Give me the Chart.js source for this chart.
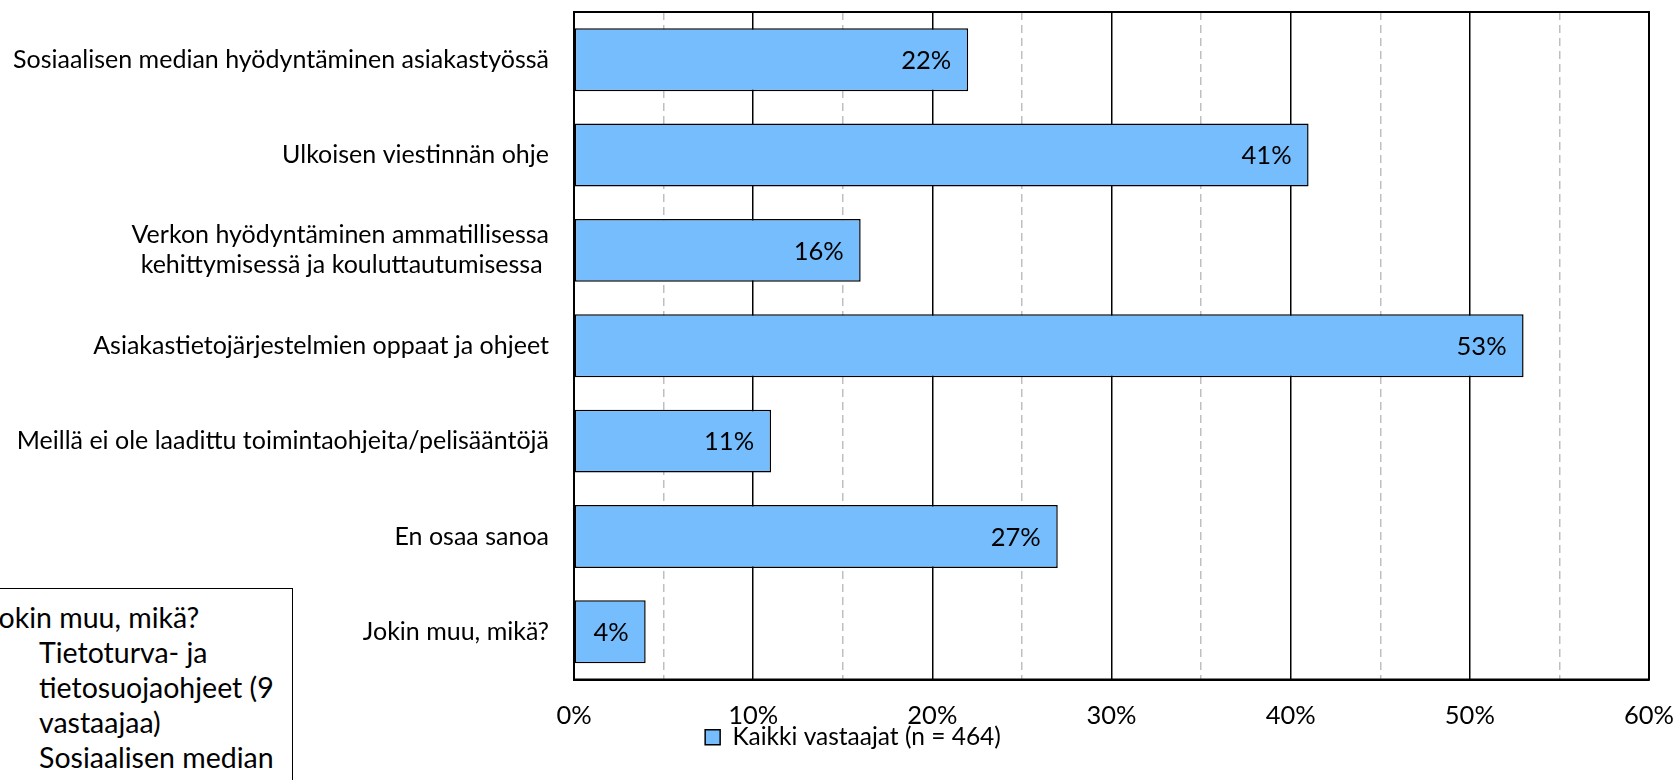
<!DOCTYPE html>
<html>
<head>
<meta charset="utf-8">
<script src="https://cdn.jsdelivr.net/npm/chart.js@4"></script>
<style>
  html, body { margin: 0; padding: 0; background: #fff; overflow: hidden; }
  #wrap { position: relative; width: 1674px; height: 780px; }
  #note {
    position: absolute;
    left: -40px;
    top: 588px;
    width: 333px;
    height: 260px;
    box-sizing: border-box;
    border: 1.5px solid #000;
    padding: 11px 0 0 26px;
    font-family: "Lato", sans-serif;
    font-size: 28.5px;
    line-height: 35px;
    color: #000;
    background: #fff;
  }
  #note .sub { padding-left: 52px; }
</style>
</head>
<body>
<div id="wrap">
  <canvas id="myChart" width="1674" height="780"></canvas>
  <div id="note">
    Jokin muu, mikä?
    <div class="sub">Tietoturva- ja<br>tietosuojaohjeet (9<br>vastaajaa)<br>Sosiaalisen median</div>
  </div>
</div>
<script>
const categories = [
  "Sosiaalisen median hyödyntäminen asiakastyössä",
  "Ulkoisen viestinnän ohje",
  ["Verkon hyödyntäminen ammatillisessa", "kehittymisessä ja kouluttautumisessa "],
  "Asiakastietojärjestelmien oppaat ja ohjeet",
  "Meillä ei ole laadittu toimintaohjeita/pelisääntöjä",
  "En osaa sanoa",
  "Jokin muu, mikä?",
];
const values = [22, 41, 16, 53, 11, 27, 4];
const seriesLabel = "Kaikki vastaajat (n = 464)";
const axisMin = 0;
const axisMax = 60;
const majorStep = 10;
const minorStep = 5;

Chart.defaults.font.family = "Lato";
Chart.defaults.font.size = 25.5;
Chart.defaults.color = "#000";

// value labels at the inner end of each bar
const barLabels = {
  id: "barLabels",
  afterDatasetsDraw(chart) {
    const c = chart.ctx;
    const meta = chart.getDatasetMeta(0);
    c.save();
    c.font = "25.5px Lato";
    c.fillStyle = "#000";
    c.textAlign = "right";
    c.textBaseline = "middle";
    meta.data.forEach((bar, i) => {
      c.fillText(values[i] + "%", bar.x - 17, bar.y + 1);
    });
    c.restore();
  },
};

// box round the plot area
const frame = {
  id: "frame",
  afterDraw(chart) {
    const a = chart.chartArea;
    const c = chart.ctx;
    c.save();
    c.strokeStyle = "#000";
    c.lineWidth = 2;
    c.strokeRect(a.left, a.top, a.right - a.left, a.bottom - a.top);
    c.restore();
  },
};

// legend sits a bit higher and right of where the layout puts it
const legendShift = {
  id: "legendShift",
  afterLayout(chart) {
    const lg = chart.legend;
    lg.left += 28.5;
    lg.right += 28.5;
    lg.top -= 16.5;
    lg.bottom -= 16.5;
  },
};

const noPad = (scale) => {
  scale.paddingTop = 0;
  scale.paddingBottom = 0;
  scale.paddingLeft = 0;
  scale.paddingRight = 0;
};

const ctx = document.getElementById("myChart");

new Chart(ctx, {
  type: "bar",
  data: {
    labels: categories,
    datasets: [
      {
        label: seriesLabel,
        data: values,
        backgroundColor: "#75BDFD",
        borderColor: "#000",
        borderWidth: 1.5,
        borderSkipped: false,
        categoryPercentage: 1,
        barPercentage: 0.66,
      },
    ],
  },
  options: {
    indexAxis: "y",
    responsive: false,
    animation: false,
    layout: {
      autoPadding: false,
      padding: { left: 0, right: 25, top: 12, bottom: 4 },
    },
    plugins: {
      tooltip: { enabled: false },
      legend: {
        position: "bottom",
        labels: {
          boxWidth: 15,
          boxHeight: 15,
          padding: 10,
          font: { size: 24.5 },
        },
      },
    },
    scales: {
      x: {
        min: axisMin,
        max: axisMax,
        ticks: {
          stepSize: majorStep,
          padding: 21,
          callback: (v) => v + "%",
        },
        grid: {
          color: "#000",
          lineWidth: 1.5,
          drawTicks: false,
        },
        border: { color: "#000", width: 2 },
        afterFit: (scale) => {
          scale.height = 52;
          noPad(scale);
        },
      },
      x2: {
        type: "linear",
        axis: "x",
        position: "bottom",
        min: axisMin,
        max: axisMax,
        ticks: { display: false, stepSize: minorStep },
        grid: {
          color: (c) => (c.tick.value % majorStep === 0 ? "rgba(0,0,0,0)" : "#BFBFBF"),
          lineWidth: 1.5,
          drawTicks: false,
        },
        border: { display: false, dash: [8, 5] },
        afterFit: (scale) => {
          scale.height = 0;
          noPad(scale);
        },
      },
      y: {
        ticks: {
          padding: 25,
          autoSkip: false,
          font: { size: 25 },
        },
        grid: { display: false, drawTicks: false },
        border: { display: false },
        afterFit: (scale) => {
          scale.width = 574;
          noPad(scale);
        },
      },
    },
  },
  plugins: [barLabels, frame, legendShift],
});
</script>
</body>
</html>
